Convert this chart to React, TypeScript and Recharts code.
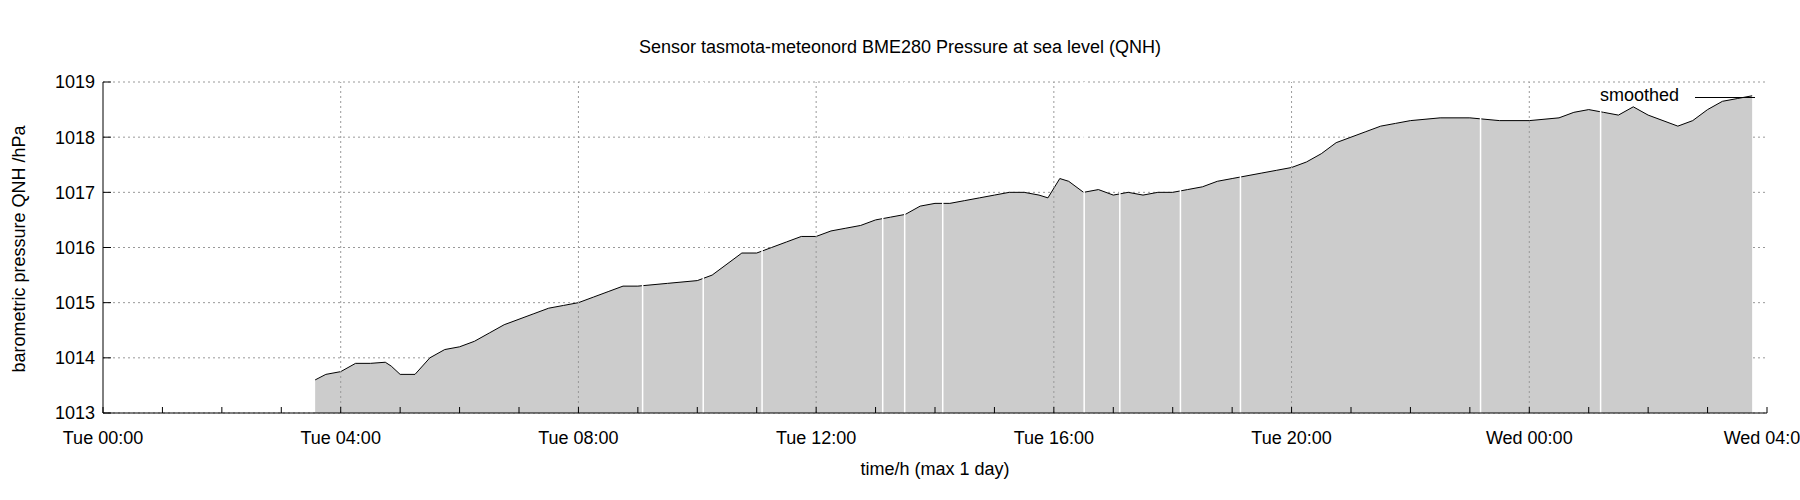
import { AreaChart, Area, XAxis, YAxis, CartesianGrid, ReferenceLine } from "recharts"

const hours = [3.57, 3.75, 4.0, 4.25, 4.5, 4.75, 4.85, 5.0, 5.25, 5.5, 5.75, 6.0, 6.25, 6.5, 6.75, 7.0, 7.25, 7.5, 7.75, 8.0, 8.25, 8.5, 8.75, 9.0, 9.5, 10.0, 10.25, 10.5, 10.75, 11.0, 11.25, 11.5, 11.75, 12.0, 12.25, 12.5, 12.75, 13.0, 13.25, 13.5, 13.75, 14.0, 14.25, 14.5, 14.75, 15.0, 15.25, 15.5, 15.75, 15.9, 16.1, 16.25, 16.5, 16.75, 17.0, 17.25, 17.5, 17.75, 18.0, 18.25, 18.5, 18.75, 19.0, 19.25, 19.5, 19.75, 20.0, 20.25, 20.5, 20.75, 21.0, 21.25, 21.5, 21.75, 22.0, 22.5, 23.0, 23.5, 24.0, 24.5, 24.75, 25.0, 25.25, 25.5, 25.75, 26.0, 26.25, 26.5, 26.75, 27.0, 27.25, 27.5, 27.75]
const pressure = [1013.6, 1013.7, 1013.75, 1013.9, 1013.9, 1013.92, 1013.85, 1013.7, 1013.7, 1014.0, 1014.15, 1014.2, 1014.3, 1014.45, 1014.6, 1014.7, 1014.8, 1014.9, 1014.95, 1015.0, 1015.1, 1015.2, 1015.3, 1015.3, 1015.35, 1015.4, 1015.5, 1015.7, 1015.9, 1015.9, 1016.0, 1016.1, 1016.2, 1016.2, 1016.3, 1016.35, 1016.4, 1016.5, 1016.55, 1016.6, 1016.75, 1016.8, 1016.8, 1016.85, 1016.9, 1016.95, 1017.0, 1017.0, 1016.95, 1016.9, 1017.25, 1017.2, 1017.0, 1017.05, 1016.95, 1017.0, 1016.95, 1017.0, 1017.0, 1017.05, 1017.1, 1017.2, 1017.25, 1017.3, 1017.35, 1017.4, 1017.45, 1017.55, 1017.7, 1017.9, 1018.0, 1018.1, 1018.2, 1018.25, 1018.3, 1018.35, 1018.35, 1018.3, 1018.3, 1018.35, 1018.45, 1018.5, 1018.45, 1018.4, 1018.55, 1018.4, 1018.3, 1018.2, 1018.3, 1018.5, 1018.65, 1018.7, 1018.75]
const gapHours = [9.08, 10.1, 11.09, 13.12, 13.49, 14.13, 16.51, 17.11, 18.13, 19.14, 23.18, 25.2]
const xTicks = Array.from({ length: 29 }, (_, i) => i)
const majorHours = [4, 8, 12, 16, 20, 24]
const yTicks = [1013, 1014, 1015, 1016, 1017, 1018, 1019]

const data = hours.map((h, i) => ({ h, p: pressure[i] }))
const font = "'Liberation Sans', Arial, sans-serif"

const fmtTime = (h: number) => {
  if (h % 4 !== 0) return ""
  const day = h < 24 ? "Tue" : "Wed"
  const hh = String(h % 24).padStart(2, "0")
  return `${day} ${hh}:00`
}

export default function App() {
  return (
    <div style={{ position: "absolute", left: 0, top: 0, width: 1800, height: 500, background: "#fff", fontFamily: font }}>
      <div style={{ position: "absolute", top: 37, width: 1800, textAlign: "center", fontSize: 18, color: "#000" }}>
        Sensor tasmota-meteonord BME280 Pressure at sea level (QNH)
      </div>
      <AreaChart width={1800} height={500} data={data} margin={{ top: 82, right: 33, bottom: 55, left: 43 }}>
        <CartesianGrid vertical={false} stroke="#999" strokeDasharray="2 3" />
        {majorHours.map((h) => (
          <ReferenceLine key={`m${h}`} x={h} stroke="#999" strokeDasharray="2 3" />
        ))}
        <XAxis
          dataKey="h"
          type="number"
          domain={[0, 28]}
          ticks={xTicks}
          interval={0}
          tickFormatter={fmtTime}
          stroke="#000"
          tick={{ fill: "#000", fontSize: 18, fontFamily: font }}
          tickSize={-6}
          tickMargin={24}
          height={32}
          label={{ value: "time/h (max 1 day)", position: "insideBottom", offset: -30, fill: "#000", fontSize: 18, fontFamily: font }}
        />
        <YAxis
          type="number"
          domain={[1013, 1019]}
          ticks={yTicks}
          stroke="#000"
          width={60}
          tickSize={-8}
          tickMargin={16}
          tick={{ fill: "#000", fontSize: 18, fontFamily: font }}
          label={{ value: "barometric pressure QNH /hPa", angle: -90, position: "insideLeft", offset: -24, dy: 125, fill: "#000", fontSize: 18, fontFamily: font }}
        />
        <XAxis xAxisId="top" orientation="top" dataKey="h" type="number" domain={[0, 28]} ticks={xTicks} tick={false} tickSize={-6} stroke="#000" height={0} />
        <YAxis yAxisId="right" orientation="right" domain={[1013, 1019]} ticks={yTicks} tick={false} tickSize={-8} stroke="#000" width={0} />
        <Area
          type="linear"
          dataKey="p"
          stroke="#000"
          strokeWidth={1}
          fill="#cccccc"
          fillOpacity={1}
          baseValue={1013}
          isAnimationActive={false}
        />
        {gapHours.map((h) => (
          <ReferenceLine key={`g${h}`} x={h} stroke="#fff" strokeWidth={1.5} />
        ))}
      </AreaChart>
      <div style={{ position: "absolute", left: 1600, top: 85, fontSize: 18, color: "#000" }}>smoothed</div>
      <div style={{ position: "absolute", left: 1695, top: 97, width: 60, height: 1, background: "#000" }} />
    </div>
  )
}
